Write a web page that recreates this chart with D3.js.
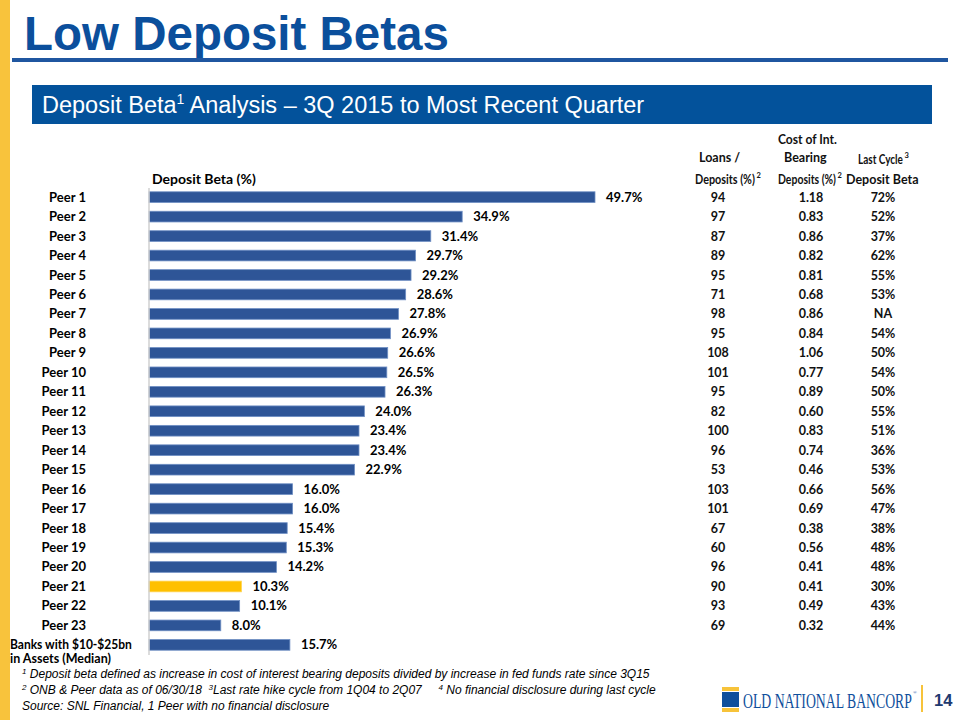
<!DOCTYPE html>
<html><head><meta charset="utf-8">
<script src="https://cdn.jsdelivr.net/npm/d3@7"></script>
<style>body{margin:0;background:#fff}svg{display:block}text{white-space:pre}</style>
</head><body>
<script>
const categories = ["Peer 1","Peer 2","Peer 3","Peer 4","Peer 5","Peer 6","Peer 7","Peer 8","Peer 9","Peer 10","Peer 11","Peer 12","Peer 13","Peer 14","Peer 15","Peer 16","Peer 17","Peer 18","Peer 19","Peer 20","Peer 21","Peer 22","Peer 23","Banks with $10-$25bn|in Assets (Median)"];
const depositBeta = [49.7,34.9,31.4,29.7,29.2,28.6,27.8,26.9,26.6,26.5,26.3,24.0,23.4,23.4,22.9,16.0,16.0,15.4,15.3,14.2,10.3,10.1,8.0,15.7];
const loansDeposits = ["94","97","87","89","95","71","98","95","108","101","95","82","100","96","53","103","101","67","60","96","90","93","69"];
const costIBD = ["1.18","0.83","0.86","0.82","0.81","0.68","0.86","0.84","1.06","0.77","0.89","0.60","0.83","0.74","0.46","0.66","0.69","0.38","0.56","0.41","0.41","0.49","0.32"];
const lastCycleBeta = ["72%","52%","37%","62%","55%","53%","NA","54%","50%","54%","50%","55%","51%","36%","53%","56%","47%","38%","48%","48%","30%","43%","44%"];
const highlight = "Peer 21";

const W = 960, H = 720;
const svg = d3.select("body").append("svg").attr("width", W).attr("height", H);
const cal = "Lato, 'Open Sans', sans-serif";
const arial = "'Liberation Sans', Arial, sans-serif";

// horizontally scale a text node to a target width (keeps glyph height)
function fitWidth(sel, x0, target){
  const w = sel.node().getComputedTextLength();
  const k = Math.min(1, target / w);
  sel.attr("transform", `translate(${x0},0) scale(${k},1) translate(${-x0},0)`);
  return w * k;
}

// left yellow stripe
svg.append("rect").attr("x",0).attr("y",0).attr("width",10).attr("height",H).attr("fill","#f8c33c");

// title
svg.append("text").attr("x",24).attr("y",50).attr("font-family",arial).attr("font-weight","bold")
  .attr("font-size",47.5).attr("fill","#0b4f9c").text("Low Deposit Betas");
svg.append("rect").attr("x",12).attr("y",58).attr("width",936).attr("height",4).attr("fill","#1f56a0");

// subtitle box
svg.append("rect").attr("x",32).attr("y",85).attr("width",900).attr("height",39).attr("fill","#03529b");
const st = svg.append("text").attr("x",42).attr("y",113).attr("font-family",arial).attr("font-size",23.5).attr("fill","#fff");
st.append("tspan").text("Deposit Beta");
st.append("tspan").attr("font-size",14).attr("dy",-9).text("1");
st.append("tspan").attr("dy",9).text(" Analysis \u2013 3Q 2015 to Most Recent Quarter");

// scales
const x = d3.scaleLinear().domain([0, 49.7]).range([149, 595]);
const y = d3.scaleBand().domain(categories).range([187.5, 654.5]).paddingInner(0.45).paddingOuter(0.22);

// chart title
svg.append("text").attr("x",152).attr("y",184).attr("font-family",cal).attr("font-weight","bold")
  .attr("font-size",14).attr("fill","#000").text("Deposit Beta (%)");

// bars
svg.selectAll("rect.bar").data(categories).enter().append("rect").attr("class","bar")
  .attr("x", x(0)).attr("y", d => y(d)).attr("height", y.bandwidth())
  .attr("width", (d,i) => x(depositBeta[i]) - x(0))
  .attr("fill", d => d === highlight ? "#ffc000" : "#2e5597")
  .attr("stroke", d => d === highlight ? "#ffd451" : "#6f8fc4").attr("stroke-width",0.8);

// axis
const yAxis = d3.axisLeft(y).tickSize(0).tickFormat("");
const ag = svg.append("g").attr("transform",`translate(${x(0)-0.5},0)`).call(yAxis);
ag.select(".domain").attr("stroke","#d0d0d0").attr("stroke-width",1.5);

// category labels
categories.forEach((c,i) => {
  const cy = y(c) + y.bandwidth()/2;
  const parts = c.split("|");
  if (parts.length === 1) {
    svg.append("text").attr("x",86).attr("y",cy+4.5).attr("text-anchor","end")
      .attr("font-family",cal).attr("font-weight","bold").attr("font-size",13).text(c);
  } else {
    const a = svg.append("text").attr("x",10).attr("y",cy+4.5)
      .attr("font-family",cal).attr("font-weight","bold").attr("font-size",13).text(parts[0]);
    fitWidth(a, 10, 122);
    const b = svg.append("text").attr("x",10).attr("y",cy+18.5)
      .attr("font-family",cal).attr("font-weight","bold").attr("font-size",12.5).text(parts[1]);
    fitWidth(b, 10, 110);
  }
});

// value labels
svg.selectAll("text.val").data(categories).enter().append("text").attr("class","val")
  .attr("x",(d,i)=>x(depositBeta[i])+11).attr("y",d=>y(d)+y.bandwidth()/2+4.5)
  .attr("font-family",cal).attr("font-weight","bold").attr("font-size",13)
  .text((d,i)=>depositBeta[i].toFixed(1)+"%");

// table
const cols = [{cx:718, data:loansDeposits},{cx:811, data:costIBD},{cx:883, data:lastCycleBeta}];
cols.forEach(col => {
  svg.selectAll(null).data(col.data).enter().append("text")
    .attr("x",col.cx).attr("y",(d,i)=>y(categories[i])+y.bandwidth()/2+4.5)
    .attr("text-anchor","middle").attr("font-family",cal).attr("font-weight","bold").attr("font-size",12.5)
    .attr("fill","#111").text(d=>d);
});
function hdr(xl, yp, txt, sup, w){
  const t = svg.append("text").attr("x",xl).attr("y",yp)
    .attr("font-family",cal).attr("font-weight","bold").attr("font-size",12.5).attr("fill","#111").text(txt);
  const ww = fitWidth(t, xl, w);
  if (sup) svg.append("text").attr("x",xl + ww + 1.5).attr("y",yp-6).attr("font-family",cal)
    .attr("font-weight","bold").attr("font-size",7.5).attr("fill","#111").text(sup);
}
hdr(778,144,"Cost of Int.",null,59);
hdr(699,162,"Loans /",null,44);
hdr(784,162,"Bearing",null,46);
hdr(858,164,"Last Cycle","3",45);
hdr(695,184,"Deposits (%)","2",60);
hdr(778,184,"Deposits (%)","2",58);
hdr(846,184,"Deposit Beta",null,73);

// footnotes
function foot(yp, segs){
  const t = svg.append("text").attr("x",22).attr("y",yp).attr("font-family",arial).attr("font-style","italic")
    .attr("font-size",12).attr("fill","#000");
  segs.forEach(s => {
    const ts = t.append("tspan").text(s[0]);
    if (s[1]==="sup") ts.attr("font-size",8).attr("dy",-4);
    else if (s[1]==="after") ts.attr("dy",4);
  });
}
foot(678,[["1","sup"],[" Deposit beta defined as increase in cost of interest bearing deposits divided by increase in fed funds rate since 3Q15","after"]]);
foot(694,[["2","sup"],[" ONB & Peer data as of 06/30/18  ","after"],["3","sup"],["Last rate hike cycle from 1Q04 to 2Q07     ","after"],["4","sup"],[" No financial disclosure during last cycle","after"]]);
foot(710,[["Source: SNL Financial, 1 Peer with no financial disclosure"]]);

// logo
svg.append("rect").attr("x",722).attr("y",687).attr("width",17).attr("height",4).attr("fill","#f7c33a");
svg.append("rect").attr("x",722).attr("y",692).attr("width",17).attr("height",15).attr("fill","#0f4f9c");
svg.append("rect").attr("x",722).attr("y",708).attr("width",17).attr("height",4).attr("fill","#f7c33a");
const logo = svg.append("text").attr("x",743).attr("y",708).attr("font-family","'Liberation Serif','DejaVu Serif',serif")
  .attr("font-size",21).attr("fill","#0f4f9c").text("OLD NATIONAL BANCORP");
fitWidth(logo, 743, 169);
svg.append("text").attr("x",913).attr("y",694).attr("font-family","'Liberation Serif',serif").attr("font-size",5).attr("fill","#0f4f9c").text("\u00ae");
svg.append("rect").attr("x",921).attr("y",685).attr("width",2).attr("height",27).attr("fill","#f7c33a");
svg.append("text").attr("x",934).attr("y",706).attr("font-family",arial).attr("font-weight","bold")
  .attr("font-size",16.5).attr("fill","#1f3a70").text("14");
</script>
</body></html>
